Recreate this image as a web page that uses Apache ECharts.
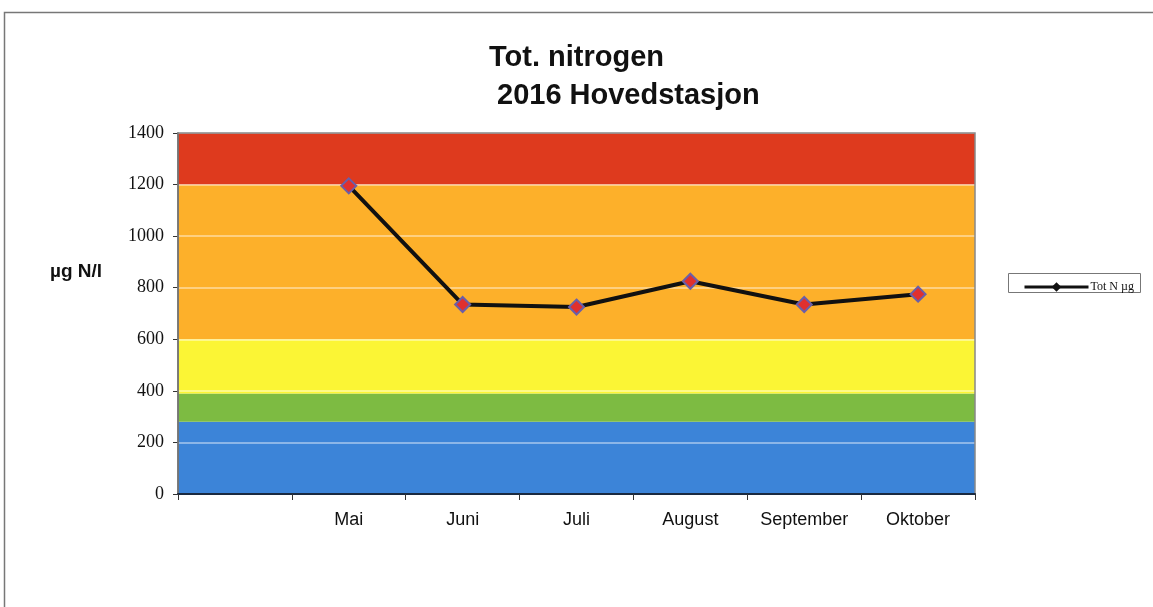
<!DOCTYPE html>
<html>
<head>
<meta charset="utf-8">
<script src="https://cdn.jsdelivr.net/npm/echarts@6/dist/echarts.min.js"></script>
<style>
  html, body { margin: 0; padding: 0; background: #fff; }
  #main { width: 1153px; height: 607px; }
</style>
</head>
<body>
<div id="main"></div>
<script>
// data
var months = ['', 'Mai', 'Juni', 'Juli', 'August', 'September', 'Oktober'];
var totN = ['-', 1195, 735, 725, 825, 735, 775];
// class limits (µg N/l) and their colours
var bandFrom = [0, 280, 390, 600, 1200];
var bandTo = [280, 390, 600, 1200, 1400];
var bandColors = ['#3c84d8', '#7dbb42', '#fbf535', '#fdb02a', '#de3a1e'];

var bands = [];
for (var i = 0; i < bandFrom.length; i++) {
  bands.push([
    { yAxis: bandFrom[i], itemStyle: { color: bandColors[i] } },
    { yAxis: bandTo[i] }
  ]);
}

var myChart = echarts.init(document.getElementById('main'));
var option = {
  backgroundColor: '#fff',
  animation: false,
  title: [
    {
      text: 'Tot. nitrogen',
      left: 484, top: 38,
      textStyle: { fontFamily: 'Liberation Sans', fontWeight: 'bold', fontSize: 29, color: '#111' }
    },
    {
      text: '2016 Hovedstasjon',
      left: 492, top: 76,
      textStyle: { fontFamily: 'Liberation Sans', fontWeight: 'bold', fontSize: 29, color: '#111' }
    }
  ],
  graphic: [
    {
      type: 'rect',
      shape: { x: 4.5, y: 12.5, width: 1160, height: 620 },
      style: { fill: 'none', stroke: '#777', lineWidth: 1.5 }
    },
    {
      type: 'rect',
      shape: { x: 1008.5, y: 273.5, width: 132, height: 19 },
      style: { fill: '#fff', stroke: '#777', lineWidth: 1 }
    },
    {
      type: 'text',
      left: 50, top: 262,
      style: { text: 'µg N/l', fontFamily: 'Liberation Sans', fontWeight: 'bold', fontSize: 19, fill: '#111' }
    }
  ],
  legend: {
    left: 1018, top: 276,
    itemWidth: 64, itemHeight: 12, itemGap: 4,
    textStyle: { fontFamily: 'Liberation Serif', fontSize: 12, color: '#111', padding: [0, 0, 0, -3] },
    itemStyle: { color: '#111', borderWidth: 0 },
    lineStyle: { width: 3, color: '#111' },
    data: ['Tot N µg']
  },
  grid: { left: 178, right: 178, top: 133, bottom: 113, show: true, borderColor: '#888', borderWidth: 1.5, z: 4 },
  xAxis: {
    type: 'category',
    data: months,
    boundaryGap: true,
    z: 4,
    axisLine: { lineStyle: { color: '#1a2a40', width: 2 } },
    axisTick: { show: true, interval: 0, length: 6, lineStyle: { color: '#333' } },
    axisLabel: { interval: 0, hideOverlap: false, fontFamily: 'Liberation Sans', fontSize: 18, color: '#111', margin: 17 }
  },
  yAxis: {
    type: 'value',
    min: 0, max: 1400, interval: 200,
    z: 3,
    axisLine: { show: true, lineStyle: { color: '#222', width: 1.5 } },
    axisTick: { show: true, length: 5, lineStyle: { color: '#333' } },
    axisLabel: {
      fontFamily: 'Liberation Serif', fontSize: 18, color: '#111', margin: 14,
      formatter: function (v) { return String(v); }
    },
    splitLine: { lineStyle: { color: 'rgba(255,255,255,0.55)', width: 1.5 } }
  },
  series: [
    {
      name: 'bands',
      type: 'line',
      data: [],
      z: 1,
      silent: true,
      markArea: { silent: true, data: bands }
    },
    {
      name: 'Tot N µg',
      type: 'line',
      data: totN,
      z: 5,
      symbol: 'diamond',
      symbolSize: 15,
      lineStyle: { color: '#111', width: 4 },
      itemStyle: { color: '#e0302e', borderColor: '#6a5fa8', borderWidth: 2 }
    }
  ]
};
myChart.setOption(option);
</script>
</body>
</html>
